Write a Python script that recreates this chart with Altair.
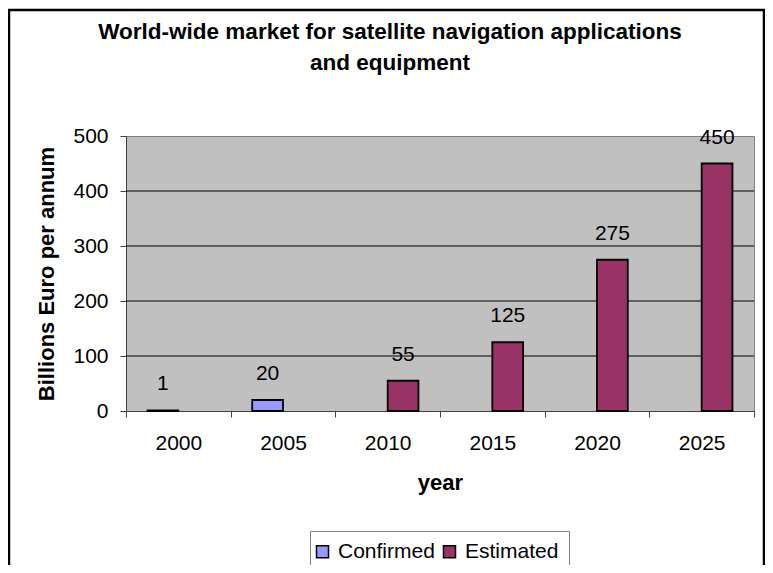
import altair as alt
import pandas as pd

# ---- data ----
years = ["2000", "2005", "2010", "2015", "2020", "2025"]
series = ["Confirmed", "Confirmed", "Estimated", "Estimated", "Estimated", "Estimated"]
values = [1, 20, 55, 125, 275, 450]
series_names = ["Confirmed", "Estimated"]
series_colors = ["#9999FF", "#993366"]
grid_values = [100, 200, 300, 400]
y_ticks = [0, 100, 200, 300, 400, 500]
title_lines = ["World-wide market for satellite navigation applications", "and equipment"]

df = pd.DataFrame({"year": years, "series": series, "value": values})
grid_df = pd.DataFrame({"value": grid_values})
frame_df = pd.DataFrame({"k": [0]})

FONT = "Liberation Sans"

x = alt.X(
    "year:N",
    sort=years,
    scale=alt.Scale(paddingInner=0, paddingOuter=0),
    axis=alt.Axis(
        title="year", labelAngle=0, tickBand="extent", grid=False,
        domainColor="#404040", tickColor="#404040", tickSize=6,
        labelFont=FONT, labelFontSize=21, labelColor="black", labelPadding=15,
        titleFont=FONT, titleFontSize=22, titleFontWeight="bold", titleColor="black",
        titleY=61, titleBaseline="top",
    ),
)
xo = alt.XOffset(
    "series:N", sort=series_names,
    scale=alt.Scale(domain=series_names, paddingInner=0, paddingOuter=0.7),
)
y = alt.Y(
    "value:Q",
    scale=alt.Scale(domain=[0, 500], nice=False),
    axis=alt.Axis(
        title="Billions Euro per annum", values=y_ticks, grid=False,
        domainColor="#404040", tickColor="#404040", tickSize=6,
        labelFont=FONT, labelFontSize=21, labelColor="black", labelPadding=12,
        titleFont=FONT, titleFontSize=22, titleFontWeight="bold", titleColor="black",
        titleX=-79.5, titleY=137.5, titleBaseline="middle",
    ),
)
color = alt.Color(
    "series:N",
    scale=alt.Scale(domain=series_names, range=series_colors),
    legend=alt.Legend(
        orient="none", legendX=184, legendY=395, direction="horizontal", title=None,
        symbolType="square", symbolSize=144, symbolStrokeColor="black",
        symbolStrokeWidth=1.5, symbolOpacity=1, symbolOffset=-8,
        labelFont=FONT, labelFontSize=21, labelColor="black", labelOffset=5,
        columnPadding=5, padding=10, strokeColor="#808080", fillColor="white",
    ),
)

frame = alt.Chart(frame_df).mark_rect(fillOpacity=0, stroke="black", strokeWidth=2.5).encode(
    x=alt.value(-117), x2=alt.value(638), y=alt.value(-126), y2=alt.value(700)
)
grid = alt.Chart(grid_df).mark_rule(color="black", strokeWidth=1).encode(y=y)
bars = alt.Chart(df).mark_bar(stroke="black", strokeWidth=1.8, opacity=1).encode(
    x=x, xOffset=xo, y=y, color=color
)
labels = alt.Chart(df).mark_text(
    baseline="alphabetic", dy=-20, fontSize=21, font=FONT, color="black"
).encode(x=x, xOffset=xo, y=y, text="value:Q")

chart = alt.layer(frame, grid, bars, labels).properties(
    width=628,
    height=275,
    autosize=alt.AutoSizeParams(type="none"),
    padding={"left": 118, "top": 128, "right": 11, "bottom": 154},
    title=alt.TitleParams(
        text=title_lines, font=FONT, fontSize=22.5, fontWeight="bold", color="black",
        anchor="middle", dx=-50, lineHeight=31, offset=-66,
    ),
).configure(background="white").configure_view(fill="#C0C0C0", stroke="#808080", strokeWidth=1)

chart.save("out.html", embed_options={"renderer": "svg", "actions": False})
